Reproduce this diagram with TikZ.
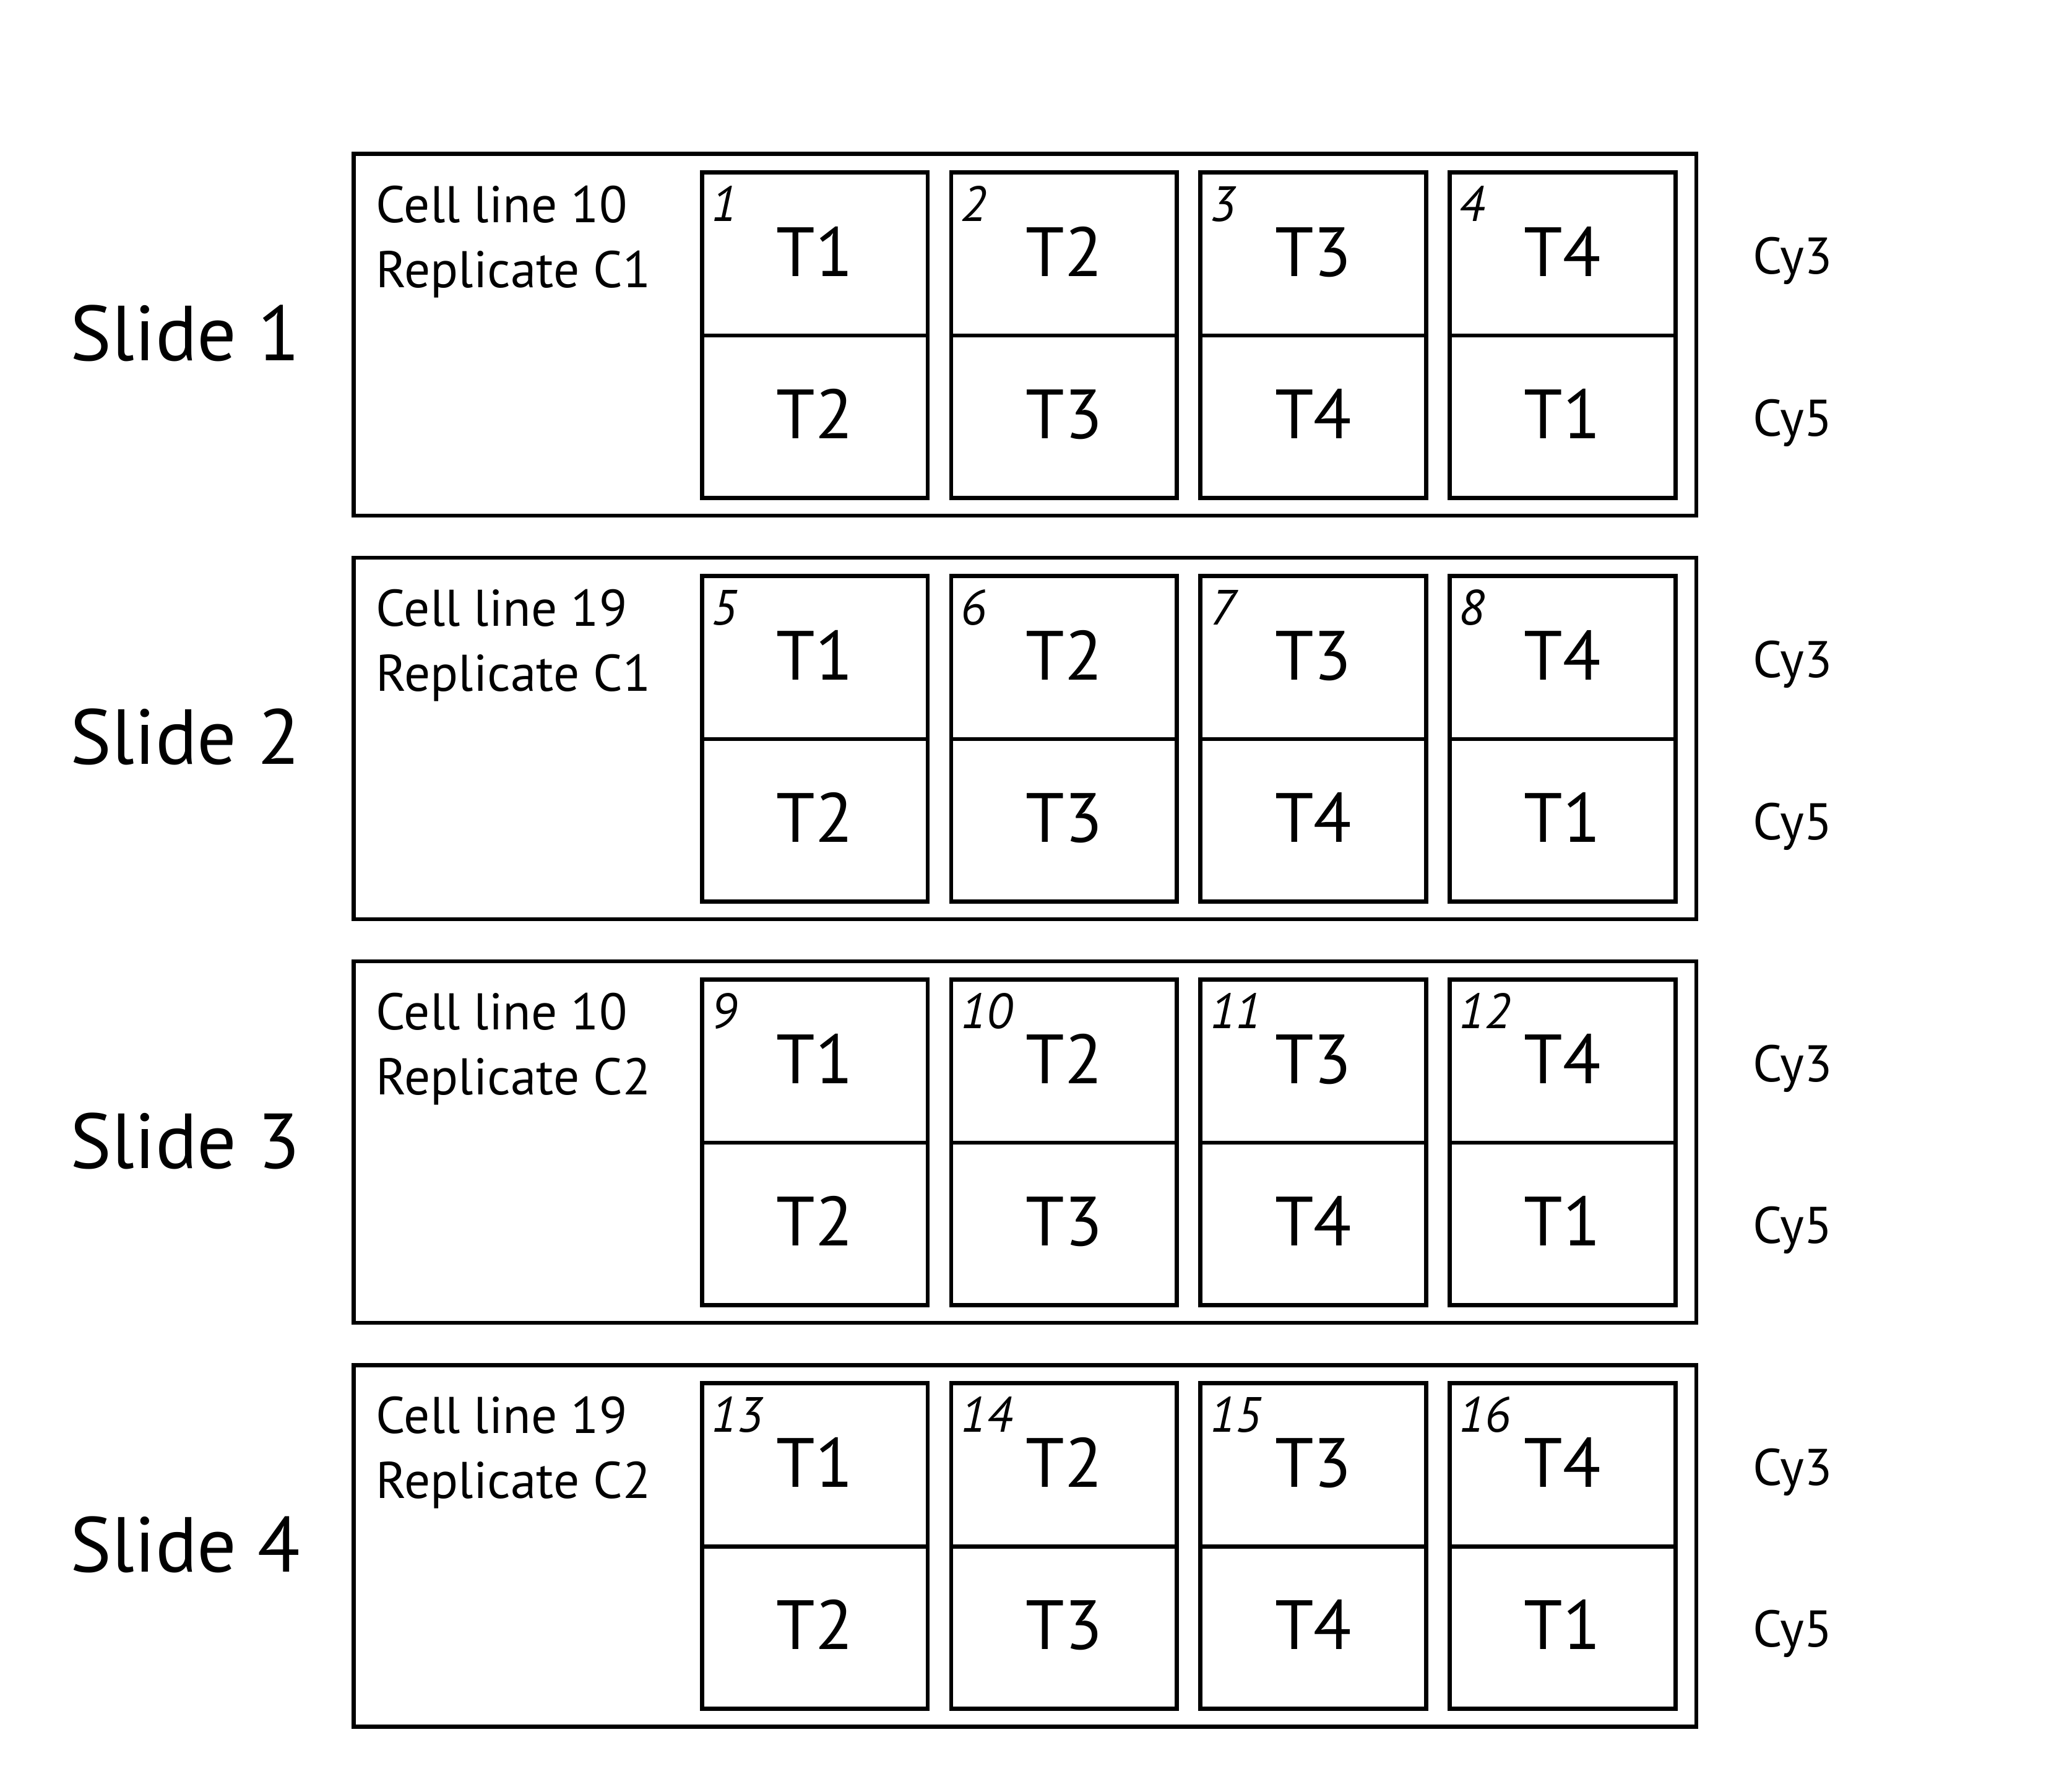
\documentclass[tikz,border=0pt]{standalone}
\usepackage{fontspec}
\setmainfont{PT Sans}
\usepackage{tikz}

\tikzset{
  slidebox/.style={draw, line width=1.8pt},
  cellbox/.style={draw, line width=1.8pt},
  slidename/.style={font=\fontsize{34}{40}\selectfont, anchor=base, inner sep=0pt},
  infotext/.style={font=\fontsize{22.5}{27}\selectfont, anchor=base west, inner sep=0pt},
  celltext/.style={font=\fontsize{30.4}{36}\selectfont, anchor=base, inner sep=0pt},
  cellnum/.style={font=\fontsize{21.6}{26}\selectfont\itshape, anchor=base west, inner sep=0pt}
}

\begin{document}
\begin{tikzpicture}[x=0.02cm, y=-0.02cm]
\useasboundingbox (0,0) rectangle (1568,1373);
\foreach \k/\cl/\rp in {1/10/C1, 2/19/C1, 3/10/C2, 4/19/C2}{
  \pgfmathsetmacro{\ytop}{118+(\k-1)*309.3}
  % slide frame and labels
  \draw[slidebox] (271,\ytop) rectangle (1300,{\ytop+277});
  \node[slidename] (slide\k) at (142,{\ytop+158.4}) {Slide \k};
  \node[infotext] (cellline\k) at (288,{\ytop+52.3}) {Cell line \cl};
  \node[infotext] (replicate\k) at (288,{\ytop+102.1}) {Replicate \rp};
  \node[infotext] (cythree\k) at (1343,{\ytop+92}) {Cy3};
  \node[infotext] (cyfive\k) at (1343,{\ytop+216}) {Cy5};
  % wells
  \foreach \j/\up/\dn in {0/1/2, 1/2/3, 2/3/4, 3/4/1}{
    \pgfmathsetmacro{\xl}{538+\j*191}
    \pgfmathtruncatemacro{\num}{(\k-1)*4+\j+1}
    \draw[cellbox] (\xl,{\ytop+14}) rectangle ({\xl+173},{\ytop+263.5});
    \draw[cellbox] (\xl,{\ytop+139}) -- ({\xl+173},{\ytop+139});
    \node[cellnum] (num\num) at ({\xl+7},{\ytop+51.4}) {\num};
    \node[celltext] (up\num) at ({\xl+86.5},{\ytop+93.6}) {T\up};
    \node[celltext] (dn\num) at ({\xl+86.5},{\ytop+218}) {T\dn};
  }
}
\end{tikzpicture}
\end{document}
